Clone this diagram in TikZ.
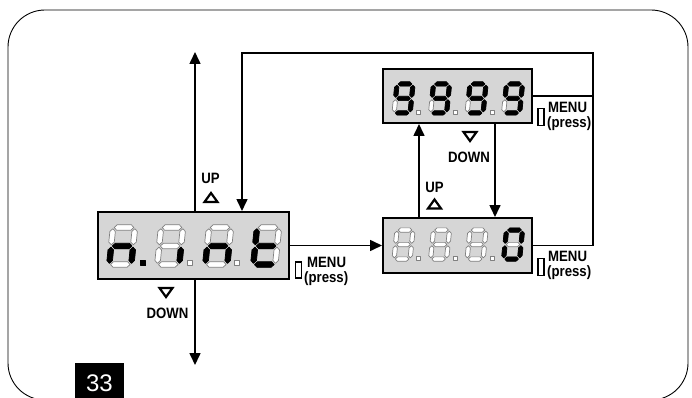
\documentclass[tikz,border=0pt]{standalone}
\usepackage{fontspec}
\setmainfont{Liberation Sans}
\usetikzlibrary{arrows.meta}
\tikzset{
 lit/.style={fill=black,draw=black,line width=0.7pt,line join=round},
 unlit/.style={fill=white,draw=black!50,line width=0.7pt,line join=round},
 dispbox/.style={draw=black,line width=2pt,fill=black!16,inner sep=0pt},
 conn/.style={line width=1.6pt},
 arr/.style={conn,-{Triangle[length=12pt,width=11pt]}},
 lab/.style={font=\bfseries\fontsize{15}{16}\selectfont,xscale=0.88,inner sep=0pt},
 menubtn/.style={draw=black,line width=1.5pt,fill=white},
 trimark/.style={draw=black,line width=2.2pt,line join=miter},
 pics/uptri/.style={code={\draw[trimark] (-6.5,4.5) -- (6.5,4.5) -- (0,-4.5) -- cycle;}},
 pics/dntri/.style={code={\draw[trimark] (-6.5,-4.5) -- (6.5,-4.5) -- (0,4.5) -- cycle;}},
}
\newcommand\hsg[2]{\path[#2] (\sG,{#1}) -- ({\sG+\sh},{#1-\sh}) -- ({\sW-\sG-\sh},{#1-\sh}) -- ({\sW-\sG},{#1}) -- ({\sW-\sG-\sh},{#1+\sh}) -- ({\sG+\sh},{#1+\sh}) -- cycle;}
\newcommand\vsg[4]{\path[#4] ({#1},{#2+\sG}) -- ({#1+\sh},{#2+\sG+\sh}) -- ({#1+\sh},{#3-\sG-\sh}) -- ({#1},{#3-\sG}) -- ({#1-\sh},{#3-\sG-\sh}) -- ({#1-\sh},{#2+\sG+\sh}) -- cycle;}
\newcommand\dsega[1]{\hsg{0}{#1}}
\newcommand\dsegg[1]{\hsg{\sH}{#1}}
\newcommand\dsegd[1]{\hsg{2*\sH}{#1}}
\newcommand\dsegf[1]{\vsg{0}{0}{\sH}{#1}}
\newcommand\dsegb[1]{\vsg{\sW}{0}{\sH}{#1}}
\newcommand\dsege[1]{\vsg{0}{\sH}{2*\sH}{#1}}
\newcommand\dsegc[1]{\vsg{\sW}{\sH}{2*\sH}{#1}}
\newcommand\dsegnone[1]{}
\newcommand\sevdigit[6]{%
 \begin{scope}[shift={(#1,#2)},xslant=0.1]
 \def\sW{#3}\def\sH{#4}\pgfmathsetmacro\sh{#5/2}\def\sG{1.2}
 \foreach \s in {a,b,c,d,e,f,g}{\csname dseg\s\endcsname{unlit}}
 \foreach \s in {#6}{\csname dseg\s\endcsname{lit}}
 \end{scope}}
\newcommand\segdot[4]{\path[#4] ({#1-#3/2},{#2-#3/2}) rectangle ({#1+#3/2},{#2+#3/2});}
\begin{document}
\begin{tikzpicture}[x=1pt,y=-1pt]
\useasboundingbox (0,0) rectangle (692,398);
\fill[white] (0,0) rectangle (692,398);
% frame
\draw[line width=0.9pt,rounded corners=37pt] (8,10) rectangle (688,400);

% display boxes
\node[dispbox,minimum width=191pt,minimum height=67pt] (b1) at (193.5,245.5) {};
\node[dispbox,minimum width=149pt,minimum height=54pt] (b2) at (457.5,96) {};
\node[dispbox,minimum width=149pt,minimum height=55pt] (b3) at (457.5,245.5) {};

% box 1 digits: n.int
\sevdigit{113}{227.5}{22}{18.5}{5.5}{c,e,g}
\sevdigit{161}{227.5}{22}{18.5}{5.5}{c}
\sevdigit{209}{227.5}{22}{18.5}{5.5}{c,e,g}
\sevdigit{257}{227.5}{22}{18.5}{5.5}{d,e,f,g}
\segdot{143}{263}{5}{lit}
\segdot{190}{263}{5}{unlit}
\segdot{237}{263}{5}{unlit}

% box 2 digits: 9999
\sevdigit{397}{84}{16}{14.5}{4.3}{a,b,c,d,f,g}
\sevdigit{433.5}{84}{16}{14.5}{4.3}{a,b,c,d,f,g}
\sevdigit{470}{84}{16}{14.5}{4.3}{a,b,c,d,f,g}
\sevdigit{506.5}{84}{16}{14.5}{4.3}{a,b,c,d,f,g}
\segdot{418}{112}{4}{unlit}
\segdot{455}{112}{4}{unlit}
\segdot{492}{112}{4}{unlit}

% box 3 digits: ___0
\sevdigit{397}{230}{16}{14.5}{4.3}{none}
\sevdigit{433.5}{230}{16}{14.5}{4.3}{none}
\sevdigit{470}{230}{16}{14.5}{4.3}{none}
\sevdigit{506.5}{230}{16}{14.5}{4.3}{a,b,c,d,e,f}
\segdot{418}{258}{4}{unlit}
\segdot{455}{258}{4}{unlit}
\segdot{492}{258}{4}{unlit}

% connectors
\coordinate (topL) at (195,52);
\coordinate (botL) at (195,365);
\coordinate (cR) at (593,53);
\coordinate (cL) at (242,53);
\coordinate (xu) at (419,0);
\coordinate (xd) at (495,0);
\draw[arr] (b1.north -| topL) -- (topL);
\draw[arr] (b1.south -| botL) -- (botL);
\draw[arr] (b3.east) -| (cR) -- (cL) -- (cL |- b1.north);
\draw[conn] (b2.east) -- (b2.east -| cR);
\draw[arr] (b1.east) -- (b3.west);
\draw[arr] (b3.north -| xu) -- (b2.south -| xu);
\draw[arr] (b2.south -| xd) -- (b3.north -| xd);

% UP / DOWN labels
\node[lab,anchor=base] (up1) at (210.5,183) {UP};
\pic at (211,197.5) {uptri};
\node[lab,anchor=base] (dn1) at (167.5,318) {DOWN};
\pic at (166,292.5) {dntri};
\node[lab,anchor=base] (dn2) at (469,162) {DOWN};
\pic at (470,136.5) {dntri};
\node[lab,anchor=base] (up3) at (434.5,192) {UP};
\pic at (434.5,204) {uptri};

% MENU (press) labels
\node[menubtn,minimum width=6pt,minimum height=16pt,inner sep=0pt] (m1) at (298.5,270) {};
\node[lab,anchor=base west] (m1a) at (307,267.5) {MENU};
\node[lab,anchor=base west] (m1b) at (304,282) {(press)};
\node[menubtn,minimum width=6pt,minimum height=17pt,inner sep=0pt] (m2) at (541,117) {};
\node[lab,anchor=base west] (m2a) at (548,112.5) {MENU};
\node[lab,anchor=base west] (m2b) at (547,127.5) {(press)};
\node[menubtn,minimum width=6pt,minimum height=17pt,inner sep=0pt] (m3) at (541,267) {};
\node[lab,anchor=base west] (m3a) at (548,261.5) {MENU};
\node[lab,anchor=base west] (m3b) at (547,276.5) {(press)};

% figure number
\node[fill=black,text=white,minimum width=49pt,minimum height=40pt,inner sep=0pt,font=\fontsize{24}{24}\selectfont] (fig) at (99.5,383) {33};
\end{tikzpicture}
\end{document}
